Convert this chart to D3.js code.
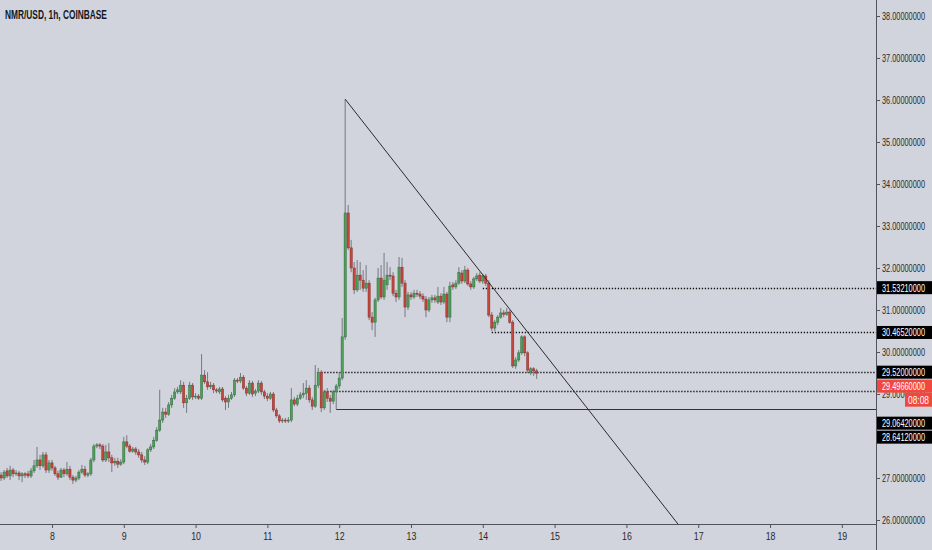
<!DOCTYPE html>
<html><head><meta charset="utf-8">
<script src="https://cdn.jsdelivr.net/npm/d3@7"></script>
<style>
html,body{margin:0;padding:0;background:#d1d4dc;}
svg{display:block;}
</style></head><body>
<svg id="c" width="932" height="550"></svg>
<script>
// ---------- DATA ----------
const title = "NMR/USD, 1h, COINBASE";
const firstBarDay = 7 + 7/24;           // first hourly bar: day 7, 07:00
const dayTicks = [8,9,10,11,12,13,14,15,16,17,18,19];
const priceTicks = [26,27,28,29,30,31,32,33,34,35,36,37,38];

const opens = [
27.07,27.00,27.17,27.05,27.19,27.10,27.12,27.05,27.10,27.10,
27.05,27.17,27.29,27.43,27.29,27.55,27.19,27.36,27.24,27.10,
27.02,27.19,27.10,27.21,27.02,26.95,27.00,27.14,27.21,27.07,
27.10,27.43,27.76,27.79,27.76,27.43,27.62,27.48,27.36,27.40,
27.33,27.38,27.86,27.76,27.64,27.69,27.62,27.55,27.43,27.38,
27.67,27.74,27.90,28.14,28.38,28.57,28.52,28.74,28.90,29.05,
29.05,29.21,28.79,28.90,29.21,28.93,28.95,28.90,29.45,29.29,
29.17,29.21,29.10,29.05,29.12,28.90,28.81,28.90,28.98,29.33,
29.31,29.40,29.14,29.02,29.26,29.02,29.07,29.26,29.05,28.95,
28.90,29.00,28.62,28.48,28.36,28.38,28.36,28.38,28.86,28.76,
28.90,28.98,29.02,29.14,28.86,28.71,29.21,29.52,28.67,29.05,
28.90,28.83,29.05,29.19,29.38,30.36,33.31,32.48,32.00,31.48,
31.83,31.71,31.52,31.64,30.83,30.71,31.24,31.76,31.31,31.60,
31.83,31.81,31.40,31.31,32.02,31.64,31.07,31.36,31.31,31.40,
31.38,31.33,31.26,31.00,31.24,31.29,31.19,31.33,31.19,31.38,
30.83,31.60,31.55,31.64,31.88,31.69,31.95,31.62,31.55,31.74,
31.83,31.69,31.81,31.64,30.88,30.57,30.71,30.83,30.93,30.90,
30.95,30.71,29.67,29.81,29.98,30.36,29.98,29.52,29.60,29.55];

const highs = [
27.14,27.19,27.24,27.29,27.24,27.19,27.17,27.14,27.14,27.17,
27.24,27.43,27.74,27.55,27.62,27.62,27.43,27.43,27.29,27.17,
27.24,27.24,27.38,27.29,27.07,27.05,27.19,27.31,27.29,27.14,
27.48,27.81,27.83,27.83,27.81,27.79,27.83,27.55,27.48,27.48,
27.45,27.98,28.02,27.81,27.74,27.74,27.69,27.62,27.52,27.71,
27.81,27.98,28.21,29.10,28.67,28.67,28.81,28.98,29.14,29.17,
29.33,29.29,28.98,29.29,29.26,29.02,29.00,29.95,29.57,29.52,
29.29,29.26,29.14,29.17,29.17,28.95,28.98,29.05,29.38,29.38,
29.50,29.45,29.19,29.33,29.31,29.12,29.33,29.31,29.10,29.02,
29.05,29.05,28.67,28.52,28.43,28.43,28.45,29.14,28.93,28.98,
29.05,29.26,29.33,29.21,28.93,29.69,29.62,29.57,29.10,29.14,
28.98,29.10,29.24,29.52,30.81,36.02,33.50,32.67,32.14,32.19,
32.14,31.95,32.07,31.71,30.95,31.29,32.00,32.07,32.36,32.14,
32.02,31.90,31.48,32.26,32.24,31.71,31.43,31.43,31.48,31.48,
31.45,31.40,31.33,31.31,31.36,31.36,31.55,31.40,31.55,31.43,
31.67,31.67,31.71,32.02,31.95,32.05,32.00,31.69,31.79,31.88,
31.90,31.86,31.86,31.71,30.95,30.76,30.88,31.05,31.00,31.05,
31.00,30.76,29.88,30.05,30.40,30.40,30.02,29.64,29.64,29.60];

const lows = [
26.93,26.95,27.00,26.95,27.02,27.05,26.95,26.90,27.00,27.00,
27.00,27.12,27.24,27.19,27.24,27.12,27.12,27.17,27.05,26.95,
27.00,27.02,27.05,26.95,26.86,26.90,26.95,27.10,27.02,27.02,
27.05,27.38,27.71,27.69,27.38,27.38,27.38,27.14,27.29,27.24,
27.29,27.33,27.71,27.60,27.60,27.55,27.48,27.36,27.31,27.33,
27.62,27.69,27.86,28.10,28.31,28.43,28.48,28.67,28.86,29.00,
29.00,28.67,28.55,28.86,28.86,28.88,28.86,28.86,29.24,29.10,
29.12,29.02,29.02,29.00,28.81,28.62,28.67,28.86,28.93,29.26,
29.26,29.10,28.95,28.98,28.93,28.95,29.02,28.98,28.88,28.83,
28.86,28.57,28.43,28.31,28.31,28.31,28.31,28.33,28.71,28.71,
28.86,28.90,28.86,28.79,28.62,28.67,29.14,28.57,28.62,28.81,
28.55,28.76,28.6412,29.12,29.33,30.29,32.43,31.90,31.38,31.43,
31.48,31.43,31.43,30.76,30.52,30.36,31.19,31.26,31.24,31.48,
31.71,31.33,31.19,31.24,31.55,30.83,31.00,31.24,31.26,31.31,
31.26,31.19,30.83,30.95,31.17,31.17,31.14,31.12,31.14,30.71,
30.71,31.48,31.50,31.60,31.62,31.64,31.57,31.48,31.50,31.69,
31.64,31.62,31.57,30.83,30.50,30.50,30.64,30.79,30.83,30.86,
30.67,29.62,29.60,29.76,29.93,29.90,29.50,29.45,29.43,29.36];

const closes = [
27.00,27.14,27.05,27.19,27.10,27.12,27.05,27.10,27.07,27.05,
27.17,27.29,27.43,27.29,27.55,27.19,27.36,27.24,27.10,27.02,
27.19,27.10,27.21,27.02,26.95,27.00,27.14,27.21,27.07,27.10,
27.43,27.76,27.79,27.76,27.43,27.62,27.48,27.36,27.40,27.33,
27.38,27.86,27.76,27.64,27.69,27.62,27.55,27.43,27.38,27.67,
27.74,27.90,28.14,28.38,28.57,28.52,28.74,28.90,29.05,29.10,
29.21,28.79,28.90,29.21,28.93,28.95,28.90,29.45,29.29,29.17,
29.21,29.10,29.07,29.12,28.86,28.81,28.90,28.98,29.33,29.31,
29.40,29.14,29.02,29.26,29.00,29.07,29.26,29.05,28.95,28.90,
29.00,28.62,28.48,28.36,28.38,28.36,28.38,28.86,28.76,28.90,
28.98,29.02,29.14,28.86,28.71,29.21,29.52,28.67,29.05,28.90,
28.83,29.05,29.19,29.38,30.36,33.31,32.48,32.00,31.48,31.83,
31.71,31.52,31.64,30.83,30.71,31.24,31.76,31.31,31.71,31.83,
31.81,31.40,31.31,32.02,31.64,31.07,31.36,31.31,31.40,31.38,
31.33,31.26,31.00,31.24,31.29,31.24,31.33,31.19,31.38,30.83,
31.57,31.55,31.64,31.90,31.69,31.95,31.62,31.55,31.74,31.81,
31.69,31.81,31.64,30.88,30.57,30.71,30.83,30.93,30.90,30.95,
30.71,29.67,29.81,29.98,30.36,29.98,29.57,29.60,29.55,29.4966];

// horizontal levels drawn on the chart (price, bar index where they start, style)
const levelPrices = [31.5321, 30.4652, 29.52, 29.0642, 28.6412];
const levelStartBar = [161, 164, 107, 108, 112];
const levelDotted = [true, true, true, true, false];

// trend line from the spike high down to the right
const trendStartBar = 115, trendStartPrice = 36.02;
const trendEndDay = 16.72, trendEndPrice = 25.9;

const countdown = "08:08";

// ---------- LAYOUT ----------
const W = 932, H = 550;
const plotR = 876, plotB = 524;
const svg = d3.select("#c");
const FONT = "'Liberation Sans',Arial,sans-serif";
const PRICE_W = 43;   // visual width of an axis price text

// condense a text element horizontally to a target width
function condense(sel, tx, ty, target){
  sel.each(function(){
    const len = this.getComputedTextLength();
    const k = Math.min(1, target/len);
    d3.select(this).attr("x",0).attr("y",0)
      .attr("transform",`translate(${tx},${ty}) scale(${k},1)`);
  });
}

const x = d3.scaleLinear().domain([7.276, 19.476]).range([0, plotR]);
const y = d3.scaleLinear().domain([25.905, 38.381]).range([plotB, 0]);

const bars = opens.map((o,i)=>({t: firstBarDay + i/24, o, h: highs[i], l: lows[i], c: closes[i]}));
const barDay = i => firstBarDay + i/24;

svg.append("rect").attr("width",W).attr("height",H).attr("fill","#d1d4dc");

svg.append("defs").append("clipPath").attr("id","plot")
  .append("rect").attr("x",0).attr("y",0).attr("width",plotR).attr("height",plotB);

const g = svg.append("g").attr("clip-path","url(#plot)");

// levels
levelPrices.forEach((p,k)=>{
  g.append("line")
    .attr("x1", x(barDay(levelStartBar[k]))).attr("x2", plotR)
    .attr("y1", Math.round(y(p))+0.5).attr("y2", Math.round(y(p))+0.5)
    .attr("stroke", levelDotted[k] ? "#111" : "#333")
    .attr("stroke-width", levelDotted[k] ? 1.3 : 1)
    .attr("stroke-dasharray", levelDotted[k] ? "1.3,1.7" : null);
});

// candles
const bw = 2.2;
const cg = g.append("g");
cg.selectAll("line.wick").data(bars).join("line")
  .attr("class","wick")
  .attr("x1", d=>x(d.t)).attr("x2", d=>x(d.t))
  .attr("y1", d=>y(d.h)).attr("y2", d=>y(d.l))
  .attr("stroke", "#6b6e78").attr("stroke-width", 0.9);
cg.selectAll("rect.body").data(bars).join("rect")
  .attr("class","body")
  .attr("x", d=>x(d.t)-bw/2).attr("width", bw)
  .attr("y", d=>y(Math.max(d.o,d.c)))
  .attr("height", d=>Math.max(1, Math.abs(y(d.o)-y(d.c))))
  .attr("fill", d=> d.c>=d.o ? "#4f9e5a" : "#c4463c")
  .attr("stroke", d=> d.c>=d.o ? "#2f6e3a" : "#8e2d28")
  .attr("stroke-width", 0.5);

// trend line
g.append("line")
  .attr("x1", x(barDay(trendStartBar))).attr("y1", y(trendStartPrice))
  .attr("x2", x(trendEndDay)).attr("y2", y(trendEndPrice))
  .attr("stroke","#2a2a2a").attr("stroke-width",1);

// axes lines
svg.append("line").attr("x1",plotR+0.5).attr("x2",plotR+0.5).attr("y1",0).attr("y2",H)
  .attr("stroke","#50535e").attr("stroke-width",1);
svg.append("line").attr("x1",0).attr("x2",plotR).attr("y1",plotB+0.5).attr("y2",plotB+0.5)
  .attr("stroke","#50535e").attr("stroke-width",1);

// bottom axis
const xAxis = d3.axisBottom(x).tickValues(dayTicks).tickFormat(d3.format("d")).tickSize(4).tickSizeOuter(0);
const xa = svg.append("g").attr("transform",`translate(0,${plotB})`).call(xAxis);
xa.select(".domain").remove();
xa.selectAll(".tick line").attr("stroke","#50535e");
xa.selectAll(".tick text").attr("fill","#2a2a2a").attr("font-family",FONT).attr("font-size",11)
  .attr("dy","0.9em").attr("y",6).attr("transform","scale(0.8,1)");

// right axis
const yAxis = d3.axisRight(y).tickValues(priceTicks).tickFormat(d3.format(".8f")).tickSize(4).tickSizeOuter(0);
const ya = svg.append("g").attr("transform",`translate(${plotR},0)`).call(yAxis);
ya.select(".domain").remove();
ya.selectAll(".tick line").attr("stroke","#50535e");
ya.selectAll(".tick text").attr("fill","#2a2a2a").attr("font-family",FONT).attr("font-size",11)
  .attr("dy","0.35em");
condense(ya.selectAll(".tick text"), 6, 0, PRICE_W);

// title
const tt = svg.append("text").text(title)
  .attr("font-family",FONT).attr("font-weight","bold").attr("font-size",12).attr("fill","#131722");
condense(tt, 5, 19, 102);

// price labels on the axis
const last = bars[bars.length-1];
const lastColor = last.c >= last.o ? "#26a69a" : "#f0483e";
const labels = levelPrices.map(p=>({p, fill:"#000", extra:0}));
labels.push({p:last.c, fill:lastColor, extra:23, current:true});
labels.sort((a,b)=>y(a.p)-y(b.p));
const LH = 13;
let prevBottom = -1e9;
labels.forEach(L=>{
  let top = Math.max(y(L.p)-LH/2, prevBottom+1);
  L.top = top;
  prevBottom = top + LH + L.extra;
});
const lg = svg.append("g");
labels.forEach(L=>{
  lg.append("rect").attr("x",plotR+1).attr("y",L.top).attr("width",W-plotR-1).attr("height",LH).attr("fill",L.fill);
  const t = lg.append("text").attr("dy","0.35em")
    .text(d3.format(".8f")(L.p)).attr("fill","#fff").attr("font-family",FONT).attr("font-size",11);
  condense(t, plotR+6, L.top+LH/2, PRICE_W);
  if(L.current){
    lg.append("rect").attr("x",905).attr("y",L.top+LH).attr("width",W-905).attr("height",14).attr("fill",L.fill);
    const c = lg.append("text").attr("dy","0.35em").attr("text-anchor","middle")
      .text(countdown).attr("fill","#fff").attr("font-family",FONT).attr("font-size",11);
    condense(c, 918.5, L.top+LH+7, 21);
  }
});
</script>
</body></html>
